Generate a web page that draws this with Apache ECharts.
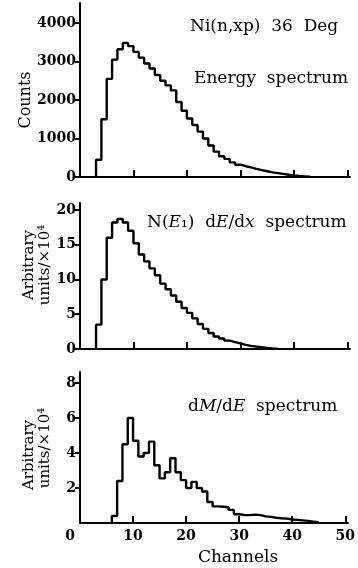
<!DOCTYPE html>
<html><head><meta charset="utf-8">
<script src="https://cdn.jsdelivr.net/npm/echarts@6/dist/echarts.min.js"></script>
<style>html,body{margin:0;padding:0;background:#fff}#c{width:358px;height:568px}</style>
</head><body><div id="c"></div><script>
// Channel axis
const channelTicks = [0, 10, 20, 30, 40, 50];

// Panel 1: Energy spectrum (counts), one value per channel starting at energyStart
const energyStart = 3;
const energyCounts = [450,1500,2550,3050,3320,3480,3400,3250,3100,2950,2820,2650,2500,2380,2250,1950,1720,1520,1350,1180,1000,820,660,540,470,380,320,280,250,210,180,150,120,100,80,60,40,25,15,5];
const energyTicks = [0, 1000, 2000, 3000, 4000];

// Panel 2: N(E1) dE/dx spectrum (x10^4)
const dedxStart = 3;
const dedxValues = [3.5,10,16,18.2,18.7,18.2,17,15.2,13.6,12.6,11.6,10.6,9.4,8.6,7.7,6.8,5.9,5.2,4.4,3.6,2.9,2.3,1.8,1.5,1.2,1.0,0.8,0.6,0.45,0.35,0.25,0.15,0.08,0.03];
const dedxTicks = [0, 5, 10, 15, 20];

// Panel 3: dM/dE spectrum (x10^4)
const dmdeStart = 6;
const dmdeValues = [0.4,2.4,4.5,6.0,4.7,3.8,4.0,4.65,3.3,2.55,2.9,3.7,2.9,2.45,2.0,2.35,2.0,1.8,1.2,0.95,0.93,0.9,0.75,0.5,0.46,0.45,0.48,0.45,0.38,0.35,0.3,0.27,0.25,0.2,0.18,0.15,0.12,0.08,0.04];
const dmdeTicks = [2, 4, 6, 8];

function steps(start, vals) {
  const d = [[start, 0]];
  vals.forEach((v, i) => d.push([start + i, v]));
  d.push([start + vals.length, 0]);
  return d;
}

const FONT = 'DejaVu Serif';
const grids = [
  {left: 80, right: 8, top: 3, height: 174},
  {left: 80, right: 8, top: 203, height: 146},
  {left: 80, right: 8, top: 372, height: 151}
];
const yMax = [4520, 21, 8.63];
const yTickVals = [energyTicks, dedxTicks, dmdeTicks];

const xAxes = grids.map((g, i) => ({
  type: 'value', gridIndex: i, min: 0, max: 50.5,
  axisLine: {lineStyle: {color: '#000', width: 2}},
  axisTick: {show: true, inside: true, length: 7, lineStyle: {color: '#000', width: 2}, customValues: channelTicks.slice(1)},
  axisLabel: i === 2 ? {
    show: true, customValues: channelTicks, margin: 6,
    fontFamily: FONT, fontSize: 14, fontWeight: 'bold', color: '#000',
    formatter: v => v === 0 ? '{z|0}' : String(v),
    rich: {z: {fontFamily: FONT, fontSize: 14, fontWeight: 'bold', color: '#000', padding: [0, 20, 0, 0]}}
  } : {show: false},
  splitLine: {show: false}
}));

const yAxes = grids.map((g, i) => ({
  type: 'value', gridIndex: i, min: 0, max: yMax[i],
  axisLine: {show: true, lineStyle: {color: '#000', width: 2}},
  axisTick: {show: true, length: 5, lineStyle: {color: '#000', width: 2}, customValues: yTickVals[i]},
  axisLabel: {show: true, customValues: yTickVals[i], margin: 4, fontFamily: FONT, fontSize: 14, fontWeight: 'bold', color: '#000',
    formatter: v => String(v)},
  splitLine: {show: false}
}));

const lineStyle = {color: '#000', width: 2.4};
const series = [
  {type: 'line', xAxisIndex: 0, yAxisIndex: 0, step: 'end', symbol: 'none', lineStyle, data: steps(energyStart, energyCounts)},
  {type: 'line', xAxisIndex: 1, yAxisIndex: 1, step: 'end', symbol: 'none', lineStyle, data: steps(dedxStart, dedxValues)},
  {type: 'line', xAxisIndex: 2, yAxisIndex: 2, step: 'end', symbol: 'none', lineStyle, data: steps(dmdeStart, dmdeValues)}
];

function txt(x, y, text, opts) {
  opts = opts || {};
  const size = opts.size || 17;
  return {
    type: 'text', x, y, rotation: opts.rot || 0,
    style: {
      text, font: size + 'px "' + FONT + '"', fill: '#000',
      textAlign: opts.align || 'left', textVerticalAlign: 'middle',
      align: opts.align || 'left', verticalAlign: 'middle',
      rich: {
        i: {fontFamily: FONT, fontSize: size, fontStyle: 'italic', fill: '#000'}
      }
    }
  };
}

const graphic = [
  txt(190, 27, 'Ni(n,xp)  36  Deg'),
  txt(194, 79, 'Energy  spectrum'),
  txt(147, 223, 'N({i|E}₁)  d{i|E}/d{i|x}  spectrum'),
  txt(188, 407, 'd{i|M}/d{i|E}  spectrum'),
  txt(238, 558, 'Channels', {align: 'center'}),
  txt(26, 100, 'Counts', {align: 'center', rot: Math.PI / 2, size: 16}),
  txt(29, 265, 'Arbitrary', {align: 'center', rot: Math.PI / 2, size: 15}),
  txt(45, 265, 'units/×10⁴', {align: 'center', rot: Math.PI / 2, size: 15}),
  txt(29, 455, 'Arbitrary', {align: 'center', rot: Math.PI / 2, size: 15}),
  txt(45, 448, 'units/×10⁴', {align: 'center', rot: Math.PI / 2, size: 15})
];

const chart = echarts.init(document.getElementById('c'), null, {renderer: 'canvas'});
chart.setOption({
  animation: false,
  backgroundColor: '#fff',
  grid: grids,
  xAxis: xAxes,
  yAxis: yAxes,
  series,
  graphic
});
</script></body></html>
